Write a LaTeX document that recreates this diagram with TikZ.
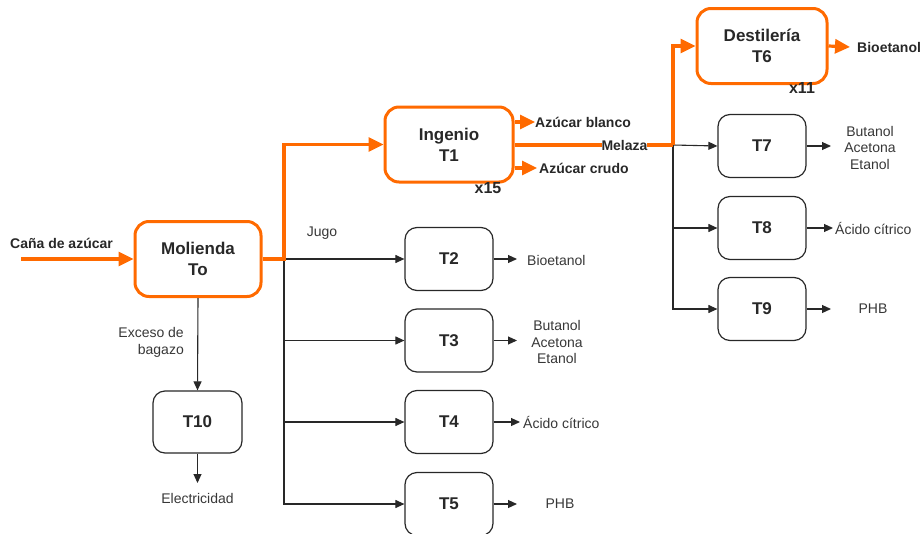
\documentclass[tikz,border=0pt]{standalone}
\usepackage{fontspec}
\setmainfont{Liberation Sans}
\usetikzlibrary{arrows.meta}
\definecolor{orng}{RGB}{255,106,0}
\definecolor{txtg}{RGB}{55,55,55}
\definecolor{boxk}{RGB}{40,40,40}
\tikzset{
  obox/.style={draw=orng, line width=3pt, rounded corners=14pt, fill=white,
    minimum width=#1, minimum height=75pt, align=center, font=\fontsize{17}{21}\selectfont\bfseries, text=boxk, inner sep=0pt},
  kbox/.style={draw=boxk, line width=1.2pt, rounded corners=12pt, fill=white,
    minimum width=88pt, minimum height=63pt, font=\fontsize{17}{21}\selectfont\bfseries, text=boxk, inner sep=0pt},
  oarr/.style={draw=orng, line width=3.2pt, -{Triangle[length=15pt,width=14pt]}},
  oline/.style={draw=orng, line width=3.2pt},
  karr/.style={draw=boxk, line width=1.1pt, -{Triangle[length=9pt,width=8pt]}},
  kline/.style={draw=boxk, line width=1.1pt},
  blab/.style={font=\fontsize{14}{16}\selectfont\bfseries, text=boxk, inner sep=0pt},
  rlab/.style={font=\fontsize{14}{16.5}\selectfont, text=txtg, inner sep=0pt, align=center},
  xlab/.style={font=\fontsize{16}{18}\selectfont\bfseries, text=boxk, inner sep=0pt}
}
\begin{document}
\begin{tikzpicture}[x=1pt,y=-1pt]
\useasboundingbox (0,0) rectangle (924,533);
% nodes
\node[obox=126pt] (mol) at (198,259) {Molienda\\To};
\node[obox=128pt] (ing) at (449,144.5) {Ingenio\\T1};
\node[obox=130pt] (des) at (762,46) {Destilería\\T6};
\node[kbox] (t2) at (449,259) {T2};
\node[kbox] (t3) at (449,340.5) {T3};
\node[kbox] (t4) at (449,422) {T4};
\node[kbox] (t5) at (449,504) {T5};
\node[kbox] (t7) at (762,146) {T7};
\node[kbox] (t8) at (762,228) {T8};
\node[kbox] (t9) at (762,309) {T9};
\node[kbox, minimum width=89pt, minimum height=62pt] (t10) at (197.5,422) {T10};
% labels
\node[blab] (cana) at (61.5,243) {Caña de azúcar};
\coordinate (cin) at (21,259);
\node[rlab] (jugo) at (322,233) {Jugo};
\node[blab, anchor=west] (ab) at (535,122) {Azúcar blanco};
\node[blab, anchor=west] (ac) at (539,168) {Azúcar crudo};
\node[blab, anchor=west] (bio6) at (857,47) {Bioetanol};
\node[xlab] (x15) at (488,188) {x15};
\node[xlab] (x11) at (802,88) {x11};
\node[rlab] (bat7) at (870,147.5) {Butanol\\Acetona\\Etanol};
\node[rlab, anchor=west] (ac8) at (835,228) {Ácido cítrico};
\node[rlab] (phb9) at (873,309) {PHB};
\node[rlab, anchor=west] (bio2) at (527,260) {Bioetanol};
\node[rlab] (bat3) at (557,342) {Butanol\\Acetona\\Etanol};
\node[rlab, anchor=west] (ac4) at (523,422) {Ácido cítrico};
\node[rlab] (phb5) at (560,504) {PHB};
\node[rlab, align=right, anchor=east] (exc) at (184,342.5) {Exceso de\\bagazo};
\node[rlab] (elec) at (197.5,498) {Electricidad};
% junctions and free ends
\coordinate (j1) at (284,259);
\coordinate (j2) at (673,145);
\coordinate (e6) at (850,47);
\coordinate (eab) at (535,122);
\coordinate (eac) at (537,168);
\coordinate (e7) at (831,146);
\coordinate (e8) at (833,228);
\coordinate (e9) at (831,309);
\coordinate (e2) at (517,259);
\coordinate (e3) at (517,340.5);
\coordinate (e4) at (520,422);
\coordinate (e5) at (517,504);
\coordinate (e10) at (197.5,483);
% black connectors
\draw[kline] (j1) -- (284,504);
\draw[karr] (j1) -- (t2.west);
\draw[karr] (j1) |- (t3.west);
\draw[karr] (j1) |- (t4.west);
\draw[karr] (j1) |- (t5.west);
\draw[karr] (j2) -- (t7.west);
\draw[karr] (j2) |- (t8.west);
\draw[karr] (j2) |- (t9.west);
\draw[karr] (t2.east) -- (e2);
\draw[karr] (t3.east) -- (e3);
\draw[karr] (t4.east) -- (e4);
\draw[karr] (t5.east) -- (e5);
\draw[karr] (t7.east) -- (e7);
\draw[karr] (t8.east) -- (e8);
\draw[karr] (t9.east) -- (e9);
\draw[karr] (mol.south) -- (t10.north);
\draw[karr] (t10.south) -- (e10);
% orange connectors
\draw[oarr] (cin) -- (mol.west);
\draw[oarr] (mol.east) -- (j1) |- (ing.west);
\draw[oline] (ing.east |- j2) -- (j2);
\draw[oarr] (j2) |- (des.west);
\draw[oarr] (des.east) -- (e6);
\draw[oarr] (ing.east |- eab) -- (eab);
\draw[oarr] (ing.east |- eac) -- (eac);
\node[blab, fill=white] (mel) at (624.5,145) {Melaza};
\end{tikzpicture}
\end{document}
